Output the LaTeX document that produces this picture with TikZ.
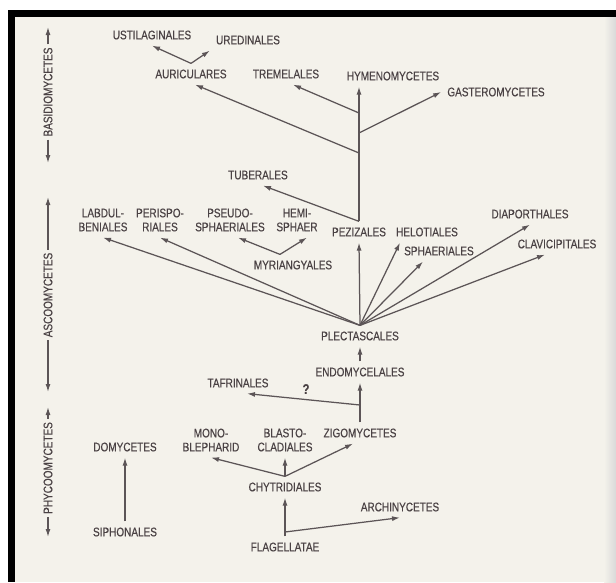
\documentclass[tikz,border=0pt]{standalone}
\usepackage{fontspec}
\setmainfont{Liberation Sans}[FakeStretch=0.8, FakeBold=0.4]
\usetikzlibrary{arrows.meta}
\definecolor{ink}{HTML}{4A4244}
\definecolor{paper}{HTML}{F4F2EB}
\pgfdeclarelayer{bglayer}
\pgfdeclarelayer{edgelayer}
\pgfdeclarelayer{nodelayer}
\pgfsetlayers{bglayer,edgelayer,nodelayer,main}
\tikzstyle{taxon}=[inner sep=6pt, text=ink, align=center, font=\fontsize{12.5}{14}\selectfont]
\tikzstyle{axis}=[taxon, inner sep=3pt, rotate=90]
\tikzstyle{branch}=[draw=ink!90, line width=1.25pt, -{Latex[length=8pt,width=5pt]}]

\begin{document}
\begin{tikzpicture}[x=1pt, y=-1pt]
	\useasboundingbox (0,0) rectangle (616,582);
	\begin{pgfonlayer}{bglayer}
		\fill [white] (0,0) rectangle (616,582);
		\fill [paper] (15,17) rectangle (616,582);
		\shade [left color=paper, right color=black!15] (604,17) rectangle (616,582);
		\fill [black] (8,10) rectangle (616,17);
		\fill [black] (8,10) rectangle (15,582);
	\end{pgfonlayer}
	\begin{pgfonlayer}{nodelayer}
		% side scale
		\node [style=axis] (bas) at (48,92) {BASIDIOMYCETES};
		\node [style=axis] (asc) at (48,295) {ASCOOMYCETES};
		\node [style=axis] (phy) at (48,468) {PHYCOOMYCETES};
		\coordinate (b1) at (48,27);
		\coordinate (b2) at (48,163);
		\coordinate (a1) at (48,197);
		\coordinate (a2) at (48,392);
		\coordinate (p1) at (48,407);
		\coordinate (p2) at (48,537);
		% basidiomycetes
		\node [style=taxon] (ust) at (152,35) {USTILAGINALES};
		\node [style=taxon] (ure) at (248,40) {UREDINALES};
		\node [style=taxon] (aur) at (191,74) {AURICULARES};
		\node [style=taxon] (tre) at (286,74) {TREMELALES};
		\node [style=taxon] (hym) at (393,76) {HYMENOMYCETES};
		\node [style=taxon] (gas) at (496,92) {GASTEROMYCETES};
		% ascomycetes
		\node [style=taxon] (tub) at (258,175) {TUBERALES};
		\node [style=taxon] (lab) at (103,220) {LABDUL-\\BENIALES};
		\node [style=taxon] (per) at (160,220) {PERISPO-\\RIALES};
		\node [style=taxon] (pse) at (230,220) {PSEUDO-\\SPHAERIALES};
		\node [style=taxon] (hem) at (297,220) {HEMI-\\SPHAER};
		\node [style=taxon] (myr) at (293,265) {MYRIANGYALES};
		\node [style=taxon] (pez) at (359,232) {PEZIZALES};
		\node [style=taxon] (hel) at (427,232) {HELOTIALES};
		\node [style=taxon] (sph) at (439,251) {SPHAERIALES};
		\node [style=taxon] (dia) at (530,214) {DIAPORTHALES};
		\node [style=taxon] (cla) at (557,244) {CLAVICIPITALES};
		\node [style=taxon] (pla) at (360,336) {PLECTASCALES};
		\node [style=taxon] (endo) at (360,372) {ENDOMYCELALES};
		\node [style=taxon] (taf) at (238,383) {TAFRINALES};
		\node [style=taxon, inner sep=1pt, font=\fontsize{14}{14}\selectfont\bfseries] (q) at (306,389) {?};
		% phycomycetes
		\node [style=taxon] (mon) at (211,440) {MONO-\\BLEPHARID};
		\node [style=taxon] (bla) at (285,440) {BLASTO-\\CLADIALES};
		\node [style=taxon] (zig) at (360,433) {ZIGOMYCETES};
		\node [style=taxon] (dom) at (125,447) {DOMYCETES};
		\node [style=taxon] (chy) at (285,487) {CHYTRIDIALES};
		\node [style=taxon] (arc) at (400,507) {ARCHINYCETES};
		\node [style=taxon] (sip) at (125,532) {SIPHONALES};
		\node [style=taxon] (fla) at (285,547) {FLAGELLATAE};
		% junctions
		\coordinate (jT) at (359,113);
		\coordinate (jG) at (359,133);
		\coordinate (jA) at (359,153);
		\coordinate (jM) at ([xshift=-13pt]myr.north);
		\coordinate (jZ) at (360,405);
		\coordinate (jC) at (285,532);
	\end{pgfonlayer}
	\begin{pgfonlayer}{edgelayer}
		\draw [style=branch] (bas.east) to (b1);
		\draw [style=branch] (bas.west) to (b2);
		\draw [style=branch] (asc.east) to (a1);
		\draw [style=branch] (asc.west) to (a2);
		\draw [style=branch] (phy.east) to (p1);
		\draw [style=branch] (phy.west) to (p2);
		\draw [style=branch] (aur.north) to (ust.south);
		\draw [style=branch] (aur.north) to (ure.south west);
		\draw [style=branch] (pez.north) to (pez.north |- hym.south);
		\draw [style=branch] (jA) to ([xshift=4pt]aur.south);
		\draw [style=branch] (jT) to ([xshift=7pt]tre.south);
		\draw [style=branch] (jG) to (gas.west);
		\draw [style=branch] (pez.north) to ([xshift=5pt]tub.south);
		\draw [style=branch] (pla.north) to (lab.south);
		\draw [style=branch] (pla.north) to (per.south);
		\draw [style=branch] (pla.north) to (pez.south);
		\draw [style=branch] (pla.north) to ([xshift=-27pt]hel.south);
		\draw [style=branch] (pla.north) to ([xshift=-16pt]sph.south);
		\draw [style=branch] (pla.north) to (dia.south);
		\draw [style=branch] (pla.north) to ([xshift=-12pt]cla.south);
		\draw [style=branch] (jM) to ([xshift=8pt]pse.south);
		\draw [style=branch] (jM) to ([xshift=10pt]hem.south);
		\draw [style=branch] (endo.north) to (pla.south);
		\draw [style=branch] (zig.north) to (endo.south);
		\draw [style=branch] (jZ) to ([xshift=9pt]taf.south);
		\draw [style=branch] (chy.north) to (mon.south);
		\draw [style=branch] (chy.north) to (bla.south);
		\draw [style=branch] (chy.north) to ([xshift=-7pt]zig.south);
		\draw [style=branch] (fla.north) to (chy.south);
		\draw [style=branch] (jC) to (arc.south);
		\draw [style=branch] (sip.north) to (dom.south);
	\end{pgfonlayer}
\end{tikzpicture}
\end{document}
